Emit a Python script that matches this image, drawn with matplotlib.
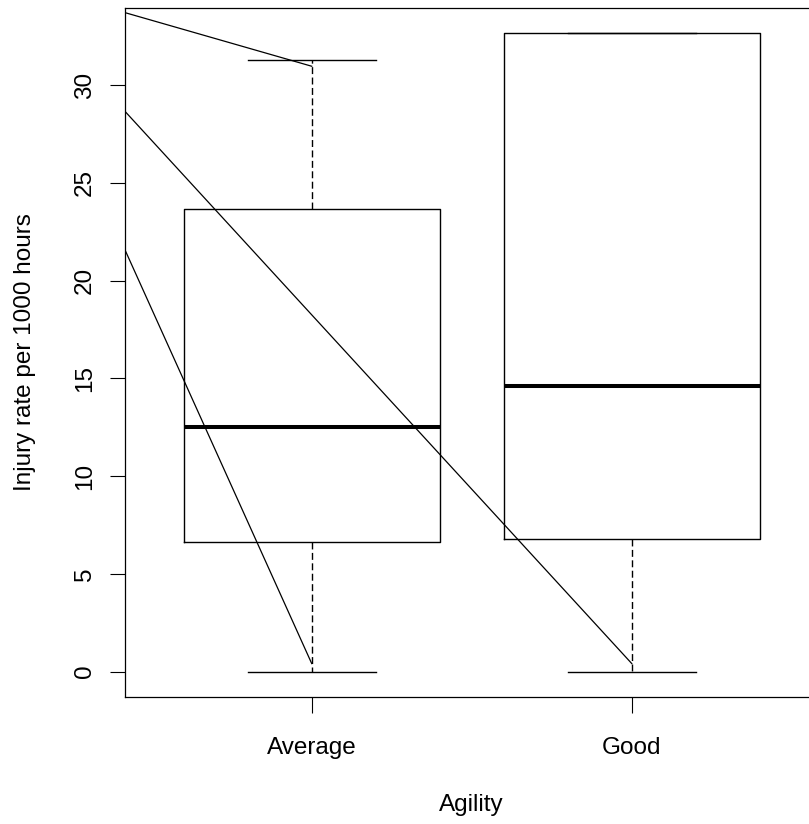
import matplotlib
matplotlib.use('Agg')
import matplotlib.pyplot as plt

#--------------------------------------------------------------
# Data
groups      = ['Average', 'Good']
whisker_lo  = [0.0, 0.0]
q1          = [6.63, 6.79]
medians     = [12.5, 14.6]
q3          = [23.67, 32.65]
whisker_hi  = [31.28, 32.65]

# Overlaid straight lines: (x0, y0) -> (x1, y1)
line_x0 = [0.415, 0.415, 0.415]
line_y0 = [33.72, 28.69, 21.63]
line_x1 = [1.0, 2.0, 1.0]
line_y1 = [30.97, 0.41, 0.41]

yticks = [0, 5, 10, 15, 20, 25, 30]

#--------------------------------------------------------------
plt.rcParams['font.family'] = ['Liberation Sans', 'DejaVu Sans']

W, H, DPI = 809, 824, 100
fig = plt.figure(figsize=(W/DPI, H/DPI), dpi=DPI)

# plot region in pixels (right edge runs past the image, like the reference)
left_px, right_px, top_px, bottom_px = 124.5, 819.0, 8.0, 697.0
ax = fig.add_axes([left_px/W, 1-bottom_px/H,
                   (right_px-left_px)/W, (bottom_px-top_px)/H])

stats = []
for i, g in enumerate(groups):
    stats.append(dict(label=g, whislo=whisker_lo[i], q1=q1[i], med=medians[i],
                      q3=q3[i], whishi=whisker_hi[i], fliers=[]))

ax.bxp(stats, positions=[1, 2], widths=0.8, capwidths=0.4,
       showfliers=False,
       boxprops=dict(color='black', lw=1.0),
       whiskerprops=dict(color='black', lw=1.0, linestyle=(0, (5, 2.5))),
       capprops=dict(color='black', lw=1.0),
       medianprops=dict(color='black', lw=2.9, solid_capstyle='butt'))

for i in range(len(line_x0)):
    ax.plot([line_x0[i], line_x1[i]], [line_y0[i], line_y1[i]],
            color='black', lw=0.9)

ax.set_xlim(0.415, 2.585)
ax.set_ylim(-1.3, 33.95)

ax.set_yticks(yticks)
ax.set_yticklabels([str(v) for v in yticks], rotation=90, va='center')
ax.set_xticks([1, 2])
ax.set_xticklabels(groups)

ax.tick_params(axis='y', length=10.5, width=0.8, pad=10, labelsize=17.5)
ax.tick_params(axis='x', length=11.5, width=0.8, pad=17, labelsize=17.5)

for sp in ax.spines.values():
    sp.set_linewidth(0.9)

ax.set_xlabel('Agility', fontsize=17.5, va='center')
ax.set_ylabel('Injury rate per 1000 hours', fontsize=17.5, va='center')
ax.xaxis.set_label_coords(0.5, -0.157)
ax.yaxis.set_label_coords((25-left_px)/(right_px-left_px), 0.5)

fig.savefig('out.png', dpi=DPI)
